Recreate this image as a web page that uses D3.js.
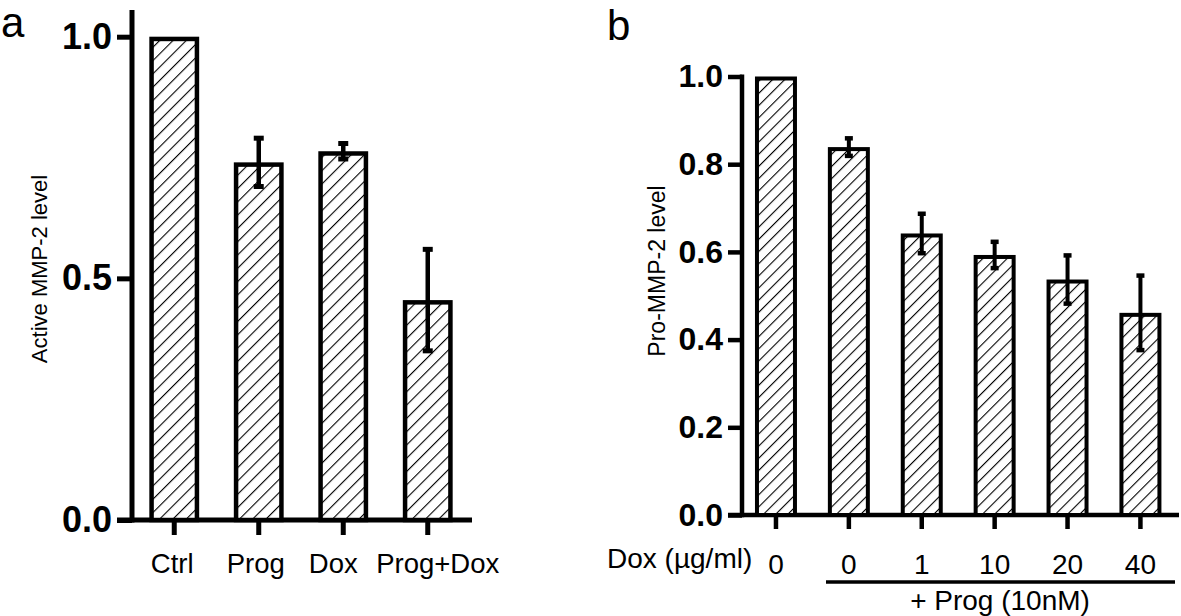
<!DOCTYPE html>
<html><head><meta charset="utf-8">
<script src="https://cdn.jsdelivr.net/npm/d3@7"></script>
<style>html,body{margin:0;padding:0;background:#fff;}svg{display:block;font-family:"Liberation Sans",Arial,sans-serif;}</style>
</head><body>
<svg id="chart" width="1181" height="616"></svg>
<script>
// ---- Data ----
const catsA = ["Ctrl", "Prog", "Dox", "Prog+Dox"];
const valsA = [1.0, 0.74, 0.763, 0.455];
const errA = [0, 0.05, 0.016, 0.105];
const ticksA = [0, 0.5, 1.0];

const catsB = ["0", "0", "1", "10", "20", "40"];
const valsB = [1.0, 0.839, 0.642, 0.593, 0.537, 0.461];
const errB = [0, 0.02, 0.045, 0.03, 0.055, 0.085];
const ticksB = [0, 0.2, 0.4, 0.6, 0.8, 1.0];

// layout: small horizontal nudges of category labels (avoid overlap, as in the original)
const labelNudgeA = [-2, -3, -10, 10];
const labelNudgeB = [0, 0, 0, 0, 0, 0];

const svg = d3.select("#chart");
const defs = svg.append("defs");
function hatch(id, sp) {
  const p = defs.append("pattern").attr("id", id).attr("patternUnits", "userSpaceOnUse")
    .attr("width", sp).attr("height", sp).attr("patternTransform", "rotate(45)");
  p.append("rect").attr("width", sp).attr("height", sp).attr("fill", "#fff");
  p.append("line").attr("x1", 0).attr("y1", 0).attr("x2", 0).attr("y2", sp)
    .attr("stroke", "#000").attr("stroke-width", 2.2);
}
hatch("hA", 9.4);
hatch("hB", 8.6);

function panel(o) {
  const g = svg.append("g");
  const y = d3.scaleLinear().domain([0, 1]).range([o.y0, o.y1]);
  const x = d3.scaleBand().domain(d3.range(o.cats.length)).range([o.xL, o.xR])
    .paddingInner(o.pi).paddingOuter(o.po);
  // y axis
  const ya = g.append("g").attr("transform", `translate(${o.xL},0)`)
    .call(d3.axisLeft(y).tickValues(o.ticks).tickSize(o.tick).tickPadding(5).tickFormat(d3.format(".1f")));
  ya.select(".domain").remove();
  ya.selectAll(".tick line").attr("stroke", "#000").attr("stroke-width", o.aw);
  ya.selectAll(".tick text").attr("font-size", o.yfs).attr("font-weight", "bold")
    .attr("font-family", "'Liberation Sans',Arial,sans-serif").attr("fill", "#000");
  g.append("line").attr("x1", o.xL).attr("x2", o.xL).attr("y1", o.yTop).attr("y2", o.y0 + o.aw / 2)
    .attr("stroke", "#000").attr("stroke-width", o.aw);
  // x axis
  const xa = g.append("g").attr("transform", `translate(0,${o.y0})`)
    .call(d3.axisBottom(x).tickSize(o.tick).tickPadding(o.xpad).tickFormat(i => o.cats[i]));
  xa.select(".domain").remove();
  xa.selectAll(".tick line").attr("stroke", "#000").attr("stroke-width", o.aw);
  xa.selectAll(".tick text").attr("font-size", o.xfs)
    .attr("font-family", "'Liberation Sans',Arial,sans-serif").attr("fill", "#000")
    .attr("dx", i => o.nudge[i]);
  g.append("line").attr("x1", o.xL - o.tick).attr("x2", o.xEnd).attr("y1", o.y0).attr("y2", o.y0)
    .attr("stroke", "#000").attr("stroke-width", o.aw);
  // bars
  const sw = o.bw;
  g.selectAll("rect.bar").data(o.vals).join("rect").attr("class", "bar")
    .attr("x", (d, i) => x(i) + sw / 2).attr("width", x.bandwidth() - sw)
    .attr("y", d => y(d) + sw / 2).attr("height", d => o.y0 - y(d) - sw / 2)
    .attr("fill", `url(#${o.pat})`).attr("stroke", "#000").attr("stroke-width", sw);
  // error bars
  o.vals.forEach((v, i) => {
    const e = o.errs[i];
    if (!e) return;
    const cx = x(i) + x.bandwidth() / 2;
    g.append("line").attr("x1", cx).attr("x2", cx).attr("y1", y(v - e)).attr("y2", y(v + e))
      .attr("stroke", "#000").attr("stroke-width", o.ew);
    [v - e, v + e].forEach(t => g.append("line").attr("x1", cx - o.cap / 2).attr("x2", cx + o.cap / 2)
      .attr("y1", y(t)).attr("y2", y(t)).attr("stroke", "#000").attr("stroke-width", o.ew + 0.5));
  });
  // y title
  g.append("text").attr("transform", `translate(${o.tx},${o.ty}) rotate(-90)`)
    .attr("text-anchor", "middle").attr("font-size", o.tfs).text(o.title);
  // panel letter
  g.append("text").attr("x", o.lx).attr("y", o.ly).attr("font-size", 42).text(o.letter);
  return { g, x, y };
}

panel({
  cats: catsA, vals: valsA, errs: errA, ticks: ticksA, nudge: labelNudgeA,
  y0: 520, y1: 36.7, yTop: 10, xL: 132, xR: 470, xEnd: 472, pi: 0.41, po: 0.205,
  tick: 15, aw: 5, bw: 4.5, ew: 4.5, cap: 10, yfs: 36, xfs: 27.5, xpad: 18,
  pat: "hA", title: "Active MMP-2 level", tx: 47, ty: 269, tfs: 22, letter: "a", lx: 1, ly: 37
});

const pb = panel({
  cats: catsB, vals: valsB, errs: errB, ticks: ticksB, nudge: labelNudgeB,
  y0: 515, y1: 76.5, yTop: 74.5, xL: 742, xR: 1174.4, xEnd: 1179, pi: 0.424, po: 0.178,
  tick: 14, aw: 4.5, bw: 4, ew: 4, cap: 8, yfs: 32, xfs: 28, xpad: 25,
  pat: "hB", title: "Pro-MMP-2 level", tx: 665, ty: 271, tfs: 23, letter: "b", lx: 607, ly: 40
});

// extra annotations for panel b
pb.g.append("text").attr("x", 607).attr("y", 568).attr("font-size", 28).text("Dox (µg/ml)");
pb.g.append("line").attr("x1", 826).attr("x2", 1175).attr("y1", 582).attr("y2", 582)
  .attr("stroke", "#000").attr("stroke-width", 3.5);
pb.g.append("text").attr("x", 1000).attr("y", 610).attr("text-anchor", "middle")
  .attr("font-size", 28).text("+ Prog (10nM)");
</script>
</body></html>
